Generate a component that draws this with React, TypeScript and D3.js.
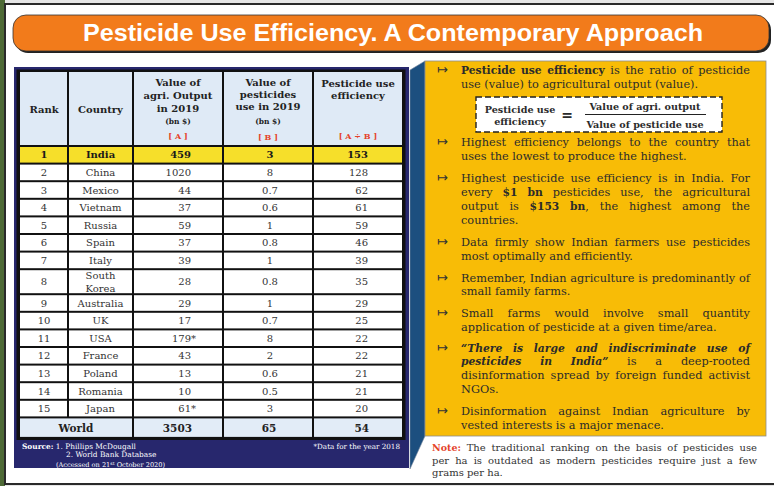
import React from 'react'
import * as d3 from 'd3'

// table data
const countries = ['India', 'China', 'Mexico', 'Vietnam', 'Russia', 'Spain', 'Italy', 'South Korea', 'Australia', 'UK', 'USA', 'France', 'Poland', 'Romania', 'Japan']
const agriOutput = [459, 1020, 44, 37, 59, 37, 39, 28, 29, 17, 179, 43, 13, 10, 61]
const pesticideUse = [3, 8, 0.7, 0.6, 1, 0.8, 1, 0.8, 1, 0.7, 8, 2, 0.6, 0.5, 3]
const efficiency = [153, 128, 62, 61, 59, 46, 39, 35, 29, 25, 22, 22, 21, 21, 20]
const year2018 = ['USA', 'Japan']
const worldTotals = [3503, 65, 54]

// right-hand notes; * bold, _ italic, ~ red
const bullets = [
  ['*Pesticide use efficiency* is the ratio of pesticide', 'use (value) to agricultural output (value).'],
  ['Highest efficiency belongs to the country that', 'uses the lowest to produce the highest.'],
  ['Highest pesticide use efficiency is in India. For', 'every *$1 bn* pesticides use, the agricultural', 'output is *$153 bn*, the highest among the', 'countries.'],
  ['Data firmly show Indian farmers use pesticides', 'most optimally and efficiently.'],
  ['Remember, Indian agriculture is predominantly of', 'small family farms.'],
  ['Small farms would involve small quantity', 'application of pesticide at a given time/area.'],
  ['*_“There is large and indiscriminate use of_*', '*_pesticides in India”_* is a deep-rooted', 'disinformation spread by foreign funded activist', 'NGOs.'],
  ['Disinformation against Indian agriculture by', 'vested interests is a major menace.'],
]
const note = [
  '~*Note:*~ The traditional ranking on the basis of pesticides use',
  'per ha is outdated as modern pesticides require just a few',
  'grams per ha.',
]

const W = 774
const H = 486
const serif = '"DejaVu Serif", serif'

const ctx = document.createElement('canvas').getContext('2d')
function measure(t, font) {
  ctx.font = font
  return ctx.measureText(t).width
}
const sizeOf = (p, size) => (p.b ? size * 0.95 : size)
const fontOf = (p, size) => `${p.i ? 'italic ' : ''}${p.b ? 'bold ' : ''}${sizeOf(p, size)}px ${serif}`

function parseWords(s) {
  const words = []
  let cur = []
  let buf = ''
  let b = false, i = false, r = false
  const flush = () => {
    if (buf) cur.push({ t: buf, b, i, r })
    buf = ''
  }
  for (const ch of s) {
    if (ch === '*') { flush(); b = !b }
    else if (ch === '_') { flush(); i = !i }
    else if (ch === '~') { flush(); r = !r }
    else if (ch === ' ') {
      flush()
      if (cur.length) { words.push(cur); cur = [] }
    } else buf += ch
  }
  flush()
  if (cur.length) words.push(cur)
  return words
}

function Line({ text, x, y, width, justify, size, fill }) {
  const words = parseWords(text)
  const widths = words.map(w => d3.sum(w, p => measure(p.t, fontOf(p, size))))
  const total = d3.sum(widths)
  const gap = justify && words.length > 1 ? (width - total) / (words.length - 1) : measure(' ', fontOf({}, size))
  const starts = words.map((w, k) => x + d3.sum(widths.slice(0, k)) + k * gap)
  return (
    <text y={y} fontSize={size} fontFamily={serif} fill={fill}>
      {words.map((w, k) =>
        w.map((p, j) => (
          <tspan
            key={k + '-' + j}
            x={j === 0 ? starts[k] : undefined}
            fontSize={sizeOf(p, size)}
            fontWeight={p.b ? 'bold' : 'normal'}
            fontStyle={p.i ? 'italic' : 'normal'}
            fill={p.r ? '#e5432a' : fill}
          >
            {p.t}
          </tspan>
        ))
      )}
    </text>
  )
}

export default function App() {
  const colEdges = [19, 68, 133, 223, 313, 403]
  const rowHeights = [75, ...countries.map(c => (c.includes(' ') ? 25 : 17.6)), 20.5]
  const rowEdges = [71, ...Array.from(d3.cumsum(rowHeights), v => 71 + v)]
  const rowMid = i => (rowEdges[i] + rowEdges[i + 1]) / 2

  const cell = (c0, c1, r, fill, key) => (
    <rect
      key={key}
      x={colEdges[c0] + 1}
      y={rowEdges[r] + 1}
      width={colEdges[c1] - colEdges[c0] - 2}
      height={rowEdges[r + 1] - rowEdges[r] - 2}
      fill={fill}
    />
  )

  const bulletStarts = [74, 146, 182, 246, 281.5, 317, 351.5, 415]
  const lh = 13.9

  return (
    <svg width={W} height={H} style={{ position: 'absolute', left: 0, top: 0, display: 'block' }}>
      {/* page surroundings */}
      <rect width={W} height={H} fill="#e6e6e6" />
      <rect x={0} y={0} width={5} height={H} fill="#4e6a36" />
      <rect x={5} y={4} width={W} height={480} fill="#fff" stroke="#2a2a2a" strokeWidth={2} />

      {/* title bar */}
      <rect x={15} y={17} width={756} height={36} rx={13} fill="#222" />
      <rect x={13} y={15} width={756} height={36} rx={13} fill="#f27b1b" stroke="#333" strokeWidth={0.8} />
      <text
        x={393}
        y={41}
        textAnchor="middle"
        fontFamily='"Liberation Sans", Arial, sans-serif'
        fontWeight="bold"
        fontSize={24}
        fill="#fff"
        textLength={620}
        lengthAdjust="spacingAndGlyphs"
      >
        Pesticide Use Efficiency. A Contemporary Approach
      </text>

      {/* table panel */}
      <rect x={14} y={67} width={395} height={401} fill="#27276d" />
      <polygon points="410,70 425,61 425,436 410,469" fill="#1c4f7f" stroke="#7a8aa0" strokeWidth={0.6} />
      <rect x={16.5} y={69.5} width={389} height={370.5} fill="#111" />

      {/* header */}
      {colEdges.slice(0, -1).map((_, c) => cell(c, c + 1, 0, '#dfeaf6', 'h' + c))}
      <g fontFamily={serif} fontWeight="bold" fontSize={10} fill="#222" textAnchor="middle">
        <text x={44} y={112.7}>Rank</text>
        <text x={100.5} y={112.7}>Country</text>
        <text x={178} y={86.4}>Value of</text>
        <text x={178} y={99.4}>agri. Output</text>
        <text x={178} y={112}>in 2019</text>
        <text x={178} y={124} fontSize={7.5}>(bn $)</text>
        <text x={178} y={139} fontSize={8} fill="#e5432a">[ A ]</text>
        <text x={268} y={85.7}>Value of</text>
        <text x={268} y={98}>pesticides</text>
        <text x={268} y={110.4}>use in 2019</text>
        <text x={268} y={124} fontSize={7.5}>(bn $)</text>
        <text x={268} y={140.3} fontSize={8} fill="#e5432a">[ B ]</text>
        <text x={358} y={87}>Pesticide use</text>
        <text x={358} y={98.7}>efficiency</text>
        <text x={358} y={139} fontSize={8} fill="#e5432a">[ A ÷ B ]</text>
      </g>

      {/* country rows */}
      {countries.map((c, i) => {
        const r = i + 1
        const y = rowMid(r) + 3.6
        const bold = i === 0
        const fill = bold ? '#f6df2a' : '#fff'
        const two = c.split(' ')
        return (
          <g key={c} fontFamily={serif} fontSize={10} fill={bold ? '#1a1a1a' : '#333'} fontWeight={bold ? 'bold' : 'normal'}>
            {colEdges.slice(0, -1).map((_, k) => cell(k, k + 1, r, fill, c + k))}
            <text x={44} y={y} textAnchor="middle">{r}</text>
            {two.length > 1 ? (
              two.map((w, j) => (
                <text key={w} x={100.5} y={y - 6 + j * 12.5} textAnchor="middle">{w}</text>
              ))
            ) : (
              <text x={100.5} y={y} textAnchor="middle">{c}</text>
            )}
            <text x={191} y={y} textAnchor="end">{agriOutput[i]}</text>
            {year2018.includes(c) && <text x={191} y={y}>*</text>}
            <text x={270} y={y} textAnchor="middle">{pesticideUse[i]}</text>
            <text x={368} y={y} textAnchor="end">{efficiency[i]}</text>
          </g>
        )
      })}

      {/* world row */}
      {(() => {
        const r = countries.length + 1
        const y = rowMid(r) + 4
        return (
          <g fontFamily={serif} fontSize={10.5} fontWeight="bold" fill="#222">
            {cell(0, 2, r, '#e2ecf7', 'w0')}
            {cell(2, 3, r, '#e2ecf7', 'w1')}
            {cell(3, 4, r, '#e2ecf7', 'w2')}
            {cell(4, 5, r, '#e2ecf7', 'w3')}
            <text x={76} y={y} textAnchor="middle">World</text>
            <text x={192} y={y} textAnchor="end">{worldTotals[0]}</text>
            <text x={269} y={y} textAnchor="middle">{worldTotals[1]}</text>
            <text x={369} y={y} textAnchor="end">{worldTotals[2]}</text>
          </g>
        )
      })()}

      {/* sources */}
      <g fontFamily={serif} fill="#fff">
        <text x={22} y={448.5} fontSize={7.4}>
          <tspan fontWeight="bold">Source:</tspan> 1. Phillips McDougall
        </text>
        <text x={66} y={457} fontSize={7.4}>2. World Bank Database</text>
        <text x={56} y={467} fontSize={6.6}>
          (Accessed on 21<tspan fontSize={4.6} dy={-2.5}>st</tspan><tspan dy={2.5}> October 2020)</tspan>
        </text>
        <text x={400} y={448.5} fontSize={7.2} textAnchor="end">*Data for the year  2018</text>
      </g>

      {/* notes box */}
      <rect x={425} y={61} width={341} height={375} fill="#f8bc06" stroke="#8c8c8c" strokeWidth={0.8} />
      {bullets.map((lines, b) => (
        <g key={b}>
          <text x={437} y={bulletStarts[b]} fontFamily='"DejaVu Sans", sans-serif' fontSize={13} fill="#333">↦</text>
          {lines.map((t, j) => (
            <Line
              key={j}
              text={t}
              x={461}
              y={bulletStarts[b] + j * lh}
              width={289}
              justify={j < lines.length - 1}
              size={11.3}
              fill="#2b2b2b"
            />
          ))}
        </g>
      ))}

      {/* formula */}
      <rect x={476} y={97} width={246} height={35} fill="#fff" stroke="#222" strokeWidth={1.4} strokeDasharray="6,3" />
      <g fontFamily={serif} fontWeight="bold" fontSize={9.6} fill="#2b2b2b" textAnchor="middle">
        <text x={520} y={113}>Pesticide use</text>
        <text x={520} y={125}>efficiency</text>
        <text x={567} y={120} fontSize={14}>=</text>
        <text x={645} y={110}>Value of agri. output</text>
        <text x={645} y={128}>Value of pesticide use</text>
      </g>
      <line x1={585} x2={706} y1={114.5} y2={114.5} stroke="#222" strokeWidth={1.2} />

      {note.map((t, j) => (
        <Line key={j} text={t} x={432} y={451 + j * 12.6} width={325} justify={j < note.length - 1} size={10} fill="#333" />
      ))}
    </svg>
  )
}
